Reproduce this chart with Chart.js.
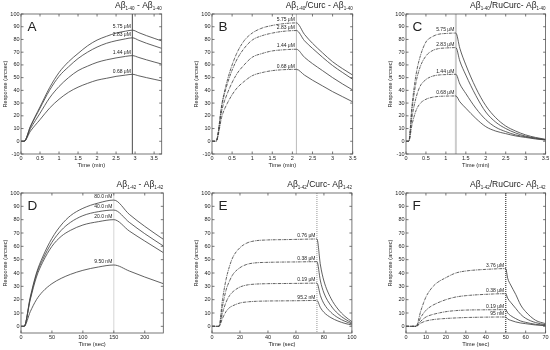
<!DOCTYPE html>
<html><head><meta charset="utf-8">
<script src="https://cdn.jsdelivr.net/npm/chart.js@4"></script>
<style>
html,body{margin:0;padding:0;background:#fff;width:550px;height:350px;overflow:hidden;position:relative}
canvas{position:absolute}
</style></head><body>
<canvas id="cA" width="168" height="171" style="left:-1px;top:0px"></canvas>
<canvas id="cB" width="168" height="171" style="left:190.3px;top:0px"></canvas>
<canvas id="cC" width="168" height="171" style="left:383.7px;top:0px"></canvas>
<canvas id="cD" width="170" height="171" style="left:-1px;top:179.3px"></canvas>
<canvas id="cE" width="168" height="171" style="left:190px;top:179.3px"></canvas>
<canvas id="cF" width="168" height="171" style="left:383.7px;top:179.3px"></canvas>
<script>
// ---------- data ----------
const timeA = [0, 0.08, 0.25, 0.5, 0.75, 1, 1.25, 1.5, 1.75, 2, 2.25, 2.5, 2.75, 2.93, 3.1, 3.3, 3.5, 3.7];
const a575 = [0, 0, 12, 27, 42, 54, 62.5, 69, 75, 79.5, 82.5, 85, 86.5, 87.3, 85.3, 83, 80.9, 78.8];
const a283 = [0, 0, 11.5, 26, 40, 51, 58.5, 65, 70, 74, 77, 79, 80.5, 81.3, 79.3, 77, 75, 73];
const a144 = [0, 0, 10, 22, 34, 43, 50, 55.5, 59, 62, 64, 65.5, 66.7, 67.3, 65.8, 64, 62.3, 60.7];
const a068 = [0, 0, 8, 17, 26, 33, 38.5, 42.5, 45.5, 48, 49.5, 51, 52, 52.6, 51.4, 50, 48.7, 47.4];

const timeB = [0, 0.1, 0.25, 0.4, 0.6, 0.8, 1, 1.25, 1.5, 1.75, 2.1, 2.3, 2.5, 2.75, 3, 3.25, 3.5];
const b575 = [0, 0, 30, 50, 68, 79, 85, 89, 91, 92.3, 93, 84, 77, 69.5, 62.5, 57, 52];
const b283 = [0, 0, 29, 47, 63, 73, 79.5, 83, 85, 86.3, 87, 79, 73, 66, 59.5, 54, 48.7];
const b144 = [0, 0, 25, 39, 52, 60, 66, 69, 71, 71.8, 72.3, 66, 61, 55.5, 50, 45, 40.3];
const b068 = [0, 0, 20, 31, 41, 47, 51.5, 54, 55.5, 56.2, 56.5, 52, 48, 43.5, 39, 35, 31];

const timeC = [0, 0.07, 0.15, 0.25, 0.35, 0.5, 0.65, 0.8, 1, 1.25, 1.35, 1.5, 1.75, 2, 2.25, 2.5, 2.75, 3, 3.25, 3.5];
const c575 = [0, 0, 28, 52, 66, 78, 82, 84, 84.7, 85, 73, 60, 42, 28, 18.5, 12, 8, 5, 3, 1.5];
const c283 = [0, 0, 25, 46, 58, 67, 71, 72.7, 73.3, 73.6, 63, 52, 36, 23, 15, 10, 6.5, 4, 2.5, 1.3];
const c144 = [0, 0, 19, 34, 43, 48.5, 51, 52, 52.4, 52.6, 45, 37.5, 26, 17, 11, 7.6, 5, 3.5, 2.2, 1];
const c068 = [0, 0, 13, 24, 29.5, 33, 34.5, 35.2, 35.5, 35.6, 31, 26, 18, 11.5, 8, 6, 4.2, 3, 1.8, 1];

const timeD = [0, 5, 15, 25, 35, 50, 65, 80, 100, 125, 150, 175, 200, 230];
const d800 = [0, 0, 22, 40, 52, 66, 76, 83, 88.5, 92.5, 94.7, 84, 75, 65.3];
const d400 = [0, 0, 21, 39, 50, 63, 72, 78, 83, 86, 87.2, 78, 69.5, 60.3];
const d200 = [0, 0, 20, 37, 48, 60, 67.5, 72, 76, 78.5, 80, 71.5, 64, 55.3];
const d095 = [0, 0, 11, 20, 26, 32, 36, 39, 42, 44.5, 46, 41.5, 37, 32];

const timeE = [0, 5, 7.5, 10, 12.5, 15, 20, 25, 30, 40, 50, 60, 75, 77.5, 80, 85, 90, 95, 100];
const e076 = [0, 0, 20, 35, 45, 52, 59, 62.5, 64, 64.8, 65, 65.2, 65.5, 46, 34, 21, 13, 7.5, 3.5];
const e038 = [0, 0, 15, 27, 34, 39, 44, 46.5, 47.5, 48, 48.2, 48.3, 48.5, 34, 25, 15.5, 9.5, 5.5, 2.5];
const e019 = [0, 0, 10, 18, 23, 26, 29.5, 31, 31.6, 32, 32.1, 32.2, 32.4, 23, 17, 10.5, 6.5, 3.8, 1.8];
const e952 = [0, 0, 6, 11, 14, 15.5, 17.5, 18.3, 18.7, 19, 19.1, 19.2, 19.4, 14, 10.5, 6.5, 4, 2.2, 1];

const timeF = [0, 5, 7.5, 10, 12.5, 15, 20, 25, 30, 40, 50, 51, 52.5, 55, 57.5, 60, 65, 70];
const f376 = [0, 0, 12, 22, 28, 32, 36.5, 40, 41.5, 42.7, 43.3, 36, 31, 24, 16, 11, 4.5, 2];
const f038 = [0, 0, 7, 12, 15, 17, 20, 22, 23, 24, 24.5, 21, 18, 13.5, 9, 6, 2.8, 1.2];
const f019 = [0, 0, 4, 7, 8.5, 9.5, 11, 11.8, 12.2, 12.4, 12.5, 10, 8, 5.8, 4, 3, 1.5, 0.8];
const f095 = [0, 0, 2.5, 4, 4.8, 5.3, 5.9, 6.3, 6.6, 6.9, 7, 5.5, 4.5, 3.3, 2.5, 2, 1, 0.5];

const labels40 = ['5.75 \u03bcM', '2.83 \u03bcM', '1.44 \u03bcM', '0.68 \u03bcM'];
const labelsD = ['80.0 nM', '40.0 nM', '20.0 nM', '9.50 nM'];
const labelsE = ['0.76 \u03bcM', '0.38 \u03bcM', '0.19 \u03bcM', '95.2 nM'];
const labelsF = ['3.76 \u03bcM', '0.38 \u03bcM', '0.19 \u03bcM', '95 nM'];

const xTicksMin = [0, 0.5, 1, 1.5, 2, 2.5, 3, 3.5];
const xTicksD = [0, 50, 100, 150, 200];
const xTicksE = [0, 20, 40, 60, 80, 100];
const xTicksF = [0, 10, 20, 30, 40, 50, 60, 70];
const yTicksTop = [-10, 0, 10, 20, 30, 40, 50, 60, 70, 80, 90, 100];
const yTicksBot = [0, 10, 20, 30, 40, 50, 60, 70, 80, 90, 100];

// ---------- drawing ----------
const FONT = "'Liberation Sans', Arial, sans-serif";
const TXT = '#222';

function makePanel(id, cfg) {
  const plugin = {
    id: 'panel' + id,
    beforeDatasetsDraw(chart) {
      const {ctx, chartArea: a, scales: {x}} = chart;
      const px = x.getPixelForValue(cfg.tEnd);
      ctx.save();
      ctx.strokeStyle = cfg.vColor; ctx.lineWidth = cfg.vWidth;
      ctx.setLineDash(cfg.vDash);
      ctx.beginPath(); ctx.moveTo(px, a.top); ctx.lineTo(px, a.bottom); ctx.stroke();
      ctx.restore();
    },
    afterDraw(chart) {
      const {ctx, chartArea: a, scales: {x, y}} = chart;
      ctx.save();
      ctx.strokeStyle = '#555'; ctx.lineWidth = 0.8;
      ctx.strokeRect(a.left, a.top, a.right - a.left, a.bottom - a.top);
      ctx.beginPath();
      x.ticks.forEach(t => { const p = x.getPixelForValue(t.value);
        ctx.moveTo(p, a.bottom); ctx.lineTo(p, a.bottom - 2.5);
        ctx.moveTo(p, a.top); ctx.lineTo(p, a.top + 2.5); });
      y.ticks.forEach(t => { const p = y.getPixelForValue(t.value);
        ctx.moveTo(a.left, p); ctx.lineTo(a.left + 2.5, p);
        ctx.moveTo(a.right, p); ctx.lineTo(a.right - 2.5, p); });
      ctx.stroke();
      const idx = cfg.time.indexOf(cfg.tEnd);
      const px = x.getPixelForValue(cfg.tEnd);
      ctx.fillStyle = TXT; ctx.font = '5px ' + FONT;
      ctx.textAlign = 'right'; ctx.textBaseline = 'alphabetic';
      cfg.series.forEach((s, i) => {
        ctx.fillText(cfg.labels[i], px - 1.5, y.getPixelForValue(s[idx]) - 1.8);
      });
      ctx.textAlign = 'left'; ctx.textBaseline = 'middle';
      ctx.font = '13.5px ' + FONT;
      ctx.fillText(cfg.letter, a.left + 6.5, a.top + 13);
      ctx.textBaseline = 'alphabetic';
      const parts = cfg.title;
      let total = 0;
      parts.forEach(p => { ctx.font = (p[1] ? '4.5px ' : '8.5px ') + FONT; total += ctx.measureText(p[0]).width; });
      let cx = a.right - total;
      const base = a.top - 6;
      parts.forEach(p => {
        ctx.font = (p[1] ? '4.5px ' : '8.5px ') + FONT;
        ctx.fillText(p[0], cx, p[1] ? base + 1.8 : base);
        cx += ctx.measureText(p[0]).width;
      });
      ctx.restore();
    }
  };
  const datasets = cfg.series.map(s => ({
    data: cfg.time.map((t, i) => ({x: t, y: s[i]})),
    borderColor: '#444', borderWidth: 0.85, pointRadius: 0,
    cubicInterpolationMode: 'monotone', fill: false,
    segment: {borderDash: c => (cfg.dash && c.p1.parsed.x <= cfg.tEnd) ? [3, 0.8, 0.8, 0.8] : undefined}
  }));
  const tickFont = {family: FONT, size: 5.5};
  new Chart(document.getElementById(id), {
    type: 'line',
    data: {datasets},
    options: {
      responsive: false, animation: false, events: [],
      layout: {padding: {top: 14, right: cfg.right, left: 0, bottom: 0}},
      plugins: {legend: {display: false}, tooltip: {enabled: false}},
      scales: {
        x: {type: 'linear', min: 0, max: cfg.xMax,
          grid: {display: false, drawTicks: false}, border: {display: false},
          afterBuildTicks: s => { s.ticks = cfg.xTicks.map(v => ({value: v})); },
          ticks: {font: tickFont, color: TXT, padding: 1.5, maxRotation: 0, autoSkip: false, callback: v => String(v)},
          title: {display: true, text: cfg.xTitle, font: {family: FONT, size: 5.8}, color: TXT, padding: {top: 0, bottom: 2}},
          afterFit: s => { s.height = 17; }
        },
        y: {type: 'linear', min: cfg.yMin, max: 100,
          grid: {display: false, drawTicks: false}, border: {display: false},
          afterBuildTicks: s => { s.ticks = cfg.yTicks.map(v => ({value: v})); },
          ticks: {font: tickFont, color: TXT, padding: 1.5, autoSkip: false, callback: v => String(v)},
          title: {display: true, text: 'Response (arcsec)', font: {family: FONT, size: 5.6}, color: TXT, padding: {top: 3, bottom: 0}},
          afterFit: s => { s.width = 22; }
        }
      }
    },
    plugins: [plugin]
  });
}

makePanel('cA', {letter: 'A', time: timeA, series: [a575, a283, a144, a068], labels: labels40,
  tEnd: 2.93, xMax: 3.7, xTicks: xTicksMin, yMin: -10, yTicks: yTicksTop, xTitle: 'Time (min)', right: 5.3,
  dash: false, vColor: '#666', vWidth: 1.2, vDash: [],
  title: [['A\u03b2', 0], ['1-40', 1], [' - A\u03b2', 0], ['1-40', 1]]});
makePanel('cB', {letter: 'B', time: timeB, series: [b575, b283, b144, b068], labels: labels40,
  tEnd: 2.1, xMax: 3.5, xTicks: xTicksMin, yMin: -10, yTicks: yTicksTop, xTitle: 'Time (min)', right: 5.3,
  dash: true, vColor: '#bbb', vWidth: 1, vDash: [],
  title: [['A\u03b2', 0], ['1-40', 1], ['/Curc - A\u03b2', 0], ['1-40', 1]]});
makePanel('cC', {letter: 'C', time: timeC, series: [c575, c283, c144, c068], labels: labels40,
  tEnd: 1.25, xMax: 3.5, xTicks: xTicksMin, yMin: -10, yTicks: yTicksTop, xTitle: 'Time (min)', right: 6.4,
  dash: true, vColor: '#ccc', vWidth: 2, vDash: [],
  title: [['A\u03b2', 0], ['1-40', 1], ['/RuCurc- A\u03b2', 0], ['1-40', 1]]});
makePanel('cD', {letter: 'D', time: timeD, series: [d800, d400, d200, d095], labels: labelsD,
  tEnd: 150, xMax: 230, xTicks: xTicksD, yMin: -5, yTicks: yTicksBot, xTitle: 'Time (sec)', right: 5.7,
  dash: false, vColor: '#ccc', vWidth: 0.8, vDash: [],
  title: [['A\u03b2', 0], ['1-42', 1], [' - A\u03b2', 0], ['1-42', 1]]});
makePanel('cE', {letter: 'E', time: timeE, series: [e076, e038, e019, e952], labels: labelsE,
  tEnd: 75, xMax: 100, xTicks: xTicksE, yMin: -5, yTicks: yTicksBot, xTitle: 'Time (sec)', right: 6,
  dash: true, vColor: '#888', vWidth: 0.9, vDash: [1, 1],
  title: [['A\u03b2', 0], ['1-42', 1], ['/Curc- A\u03b2', 0], ['1-42', 1]]});
makePanel('cF', {letter: 'F', time: timeF, series: [f376, f038, f019, f095], labels: labelsF,
  tEnd: 50, xMax: 70, xTicks: xTicksF, yMin: -5, yTicks: yTicksBot, xTitle: 'Time (sec)', right: 6.4,
  dash: true, vColor: '#555', vWidth: 1.4, vDash: [1, 1],
  title: [['A\u03b2', 0], ['1-42', 1], ['/RuCurc- A\u03b2', 0], ['1-42', 1]]});
</script>
</body></html>
